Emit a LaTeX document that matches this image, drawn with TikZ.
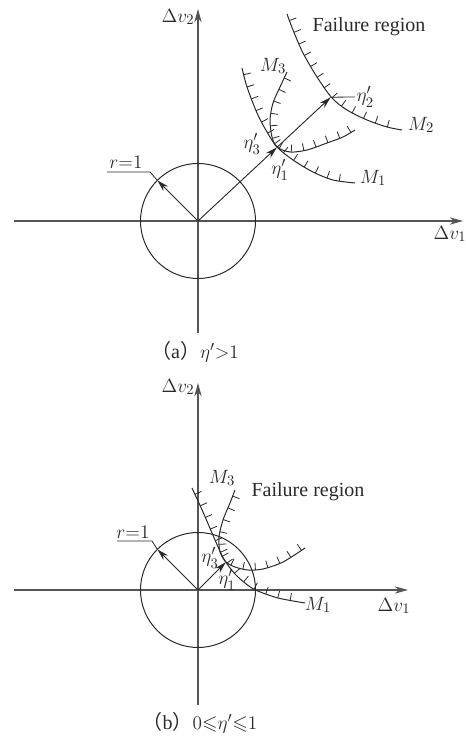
\documentclass[tikz,border=0pt]{standalone}
\usepackage{amssymb}
\usepackage{fontspec}
\setmainfont{Liberation Serif}
\newfontfamily\cjk{Noto Sans CJK SC}
\usetikzlibrary{arrows.meta,decorations.markings}
\definecolor{figink}{HTML}{2A2A2A}
\definecolor{figaxis}{HTML}{555555}

\begin{document}
\begin{tikzpicture}[
  x=0.75pt,
  y=0.75pt,
  every node/.style={font=\fontsize{15}{18}\selectfont, text=figink},
  axis/.style={figaxis, line width=0.8pt, -{Stealth[length=10pt, width=5.5pt]}},
  curve/.style={figink, line width=0.75pt},
  ray/.style={figink, line width=0.7pt, -{Stealth[length=9pt, width=5pt]}},
  leader/.style={figink, line width=0.6pt},
  hatched/.style={postaction={decorate, decoration={markings,
      mark=between positions 0.04 and 0.98 step 9.5pt with
      {\draw[figink, line width=0.6pt] (0,0) -- (0,5.5pt);}}}}
]
  \useasboundingbox (0,0) rectangle (466,736);

  % ---- (a) eta' > 1 -----------------------------------------------------
  \begin{scope}[shift={(198,515)}]
    \coordinate (Oa) at (0,0);
    \coordinate (xla) at (-184,0);
    \coordinate (xra) at (265,0);
    \coordinate (yba) at (0,-112);
    \coordinate (yta) at (0,212);
    \draw[axis] (xla) -- (xra);
    \draw[axis] (yba) -- (yta);
    \node (dv1a) at (252,-13) {$\Delta v_1$};
    \node (dv2a) at (-20,204) {$\Delta v_2$};

    % unit circle and its radius
    \draw[curve] (Oa) circle[radius=57.5];
    \coordinate (Ra) at (135:57.5);
    \coordinate (Ka) at (-48,49);
    \coordinate (Ta) at (-91,49);
    \draw[ray] (Oa) -- (Ra);
    \draw[leader] (Ra) -- (Ka) -- (Ta);
    \node (ra) at (-72,59) {$r{=}1$};

    % limit state curves
    \draw[curve, hatched] plot[smooth] coordinates
      {(89,207) (95,191) (105,168) (119,144) (134,123) (149,111) (169,101) (189,94) (204,91)};
    \draw[curve, hatched] plot[smooth] coordinates
      {(44,153) (49,134) (59,108) (69,89) (79,74) (95,61) (115,49) (135,41) (157,38)};
    \draw[curve, hatched] plot[smooth] coordinates
      {(89,149) (82,134) (75,118) (72,101) (74,84) (79,74) (92,69) (109,71) (129,78) (145,84) (157,91)};

    % design points
    \coordinate (P1a) at (43:108);
    \coordinate (P2a) at (43:181.5);
    \coordinate (Q2a) at (157,124);
    \draw[ray] (Oa) -- (P1a);
    \draw[ray] (P1a) -- (P2a);
    \draw[leader] (P2a) -- (Q2a);

    \node[anchor=west, inner sep=1pt] (eta2a) at (Q2a) {$\eta'_2$};
    \node (eta1a) at (82,51) {$\eta'_1$};
    \node (eta3a) at (54,77) {$\eta'_3$};
    \node (m1a) at (175,43) {$M_1$};
    \node (m2a) at (223,96) {$M_2$};
    \node (m3a) at (75,155) {$M_3$};
    \node (faila) at (171,194) {Failure region};
    \node (capa) at (-3,-131) {{\cjk （}a{\cjk ）}$\eta'{>}1$};
  \end{scope}

  % ---- (b) 0 <= eta' <= 1 ----------------------------------------------
  \begin{scope}[shift={(198,146)}]
    \coordinate (Ob) at (0,0);
    \coordinate (xlb) at (-184,0);
    \coordinate (xrb) at (210,0);
    \coordinate (ybb) at (0,-115);
    \coordinate (ytb) at (0,207);
    \draw[axis] (xlb) -- (xrb);
    \draw[axis] (ybb) -- (ytb);
    \node (dv1b) at (196,-16) {$\Delta v_1$};
    \node (dv2b) at (-20,203) {$\Delta v_2$};

    % unit circle and its radius
    \draw[curve] (Ob) circle[radius=57.5];
    \coordinate (Rb) at (135:57.5);
    \coordinate (Kb) at (-46,49);
    \coordinate (Tb) at (-81,49);
    \draw[ray] (Ob) -- (Rb);
    \draw[leader] (Rb) -- (Kb) -- (Tb);
    \node (rb) at (-65,58) {$r{=}1$};

    % limit state curves
    \draw[curve, hatched] plot[smooth] coordinates
      {(-6,102) (5,78) (14,57) (21,41) (27,29) (37,16) (47,7) (57.5,0) (80,-8) (107,-13)};
    \draw[curve, hatched] plot[smooth] coordinates
      {(37,100) (32,87) (25,70) (21,53) (22,38) (28,28) (37,23) (50,20) (65,21) (85,28) (107,42)};

    % design point
    \coordinate (P1b) at (45:39.4);
    \draw[ray] (Ob) -- (P1b);

    \node (eta1b) at (29,10) {$\eta'_1$};
    \node (eta3b) at (12,32) {$\eta'_3$};
    \node (m1b) at (120,-15) {$M_1$};
    \node (m3b) at (24,112) {$M_3$};
    \node (failb) at (110,98) {Failure region};
    \node (capb) at (2,-133) {{\cjk （}b{\cjk ）}$0{\leqslant}\eta'{\leqslant}1$};
  \end{scope}
\end{tikzpicture}
\end{document}
